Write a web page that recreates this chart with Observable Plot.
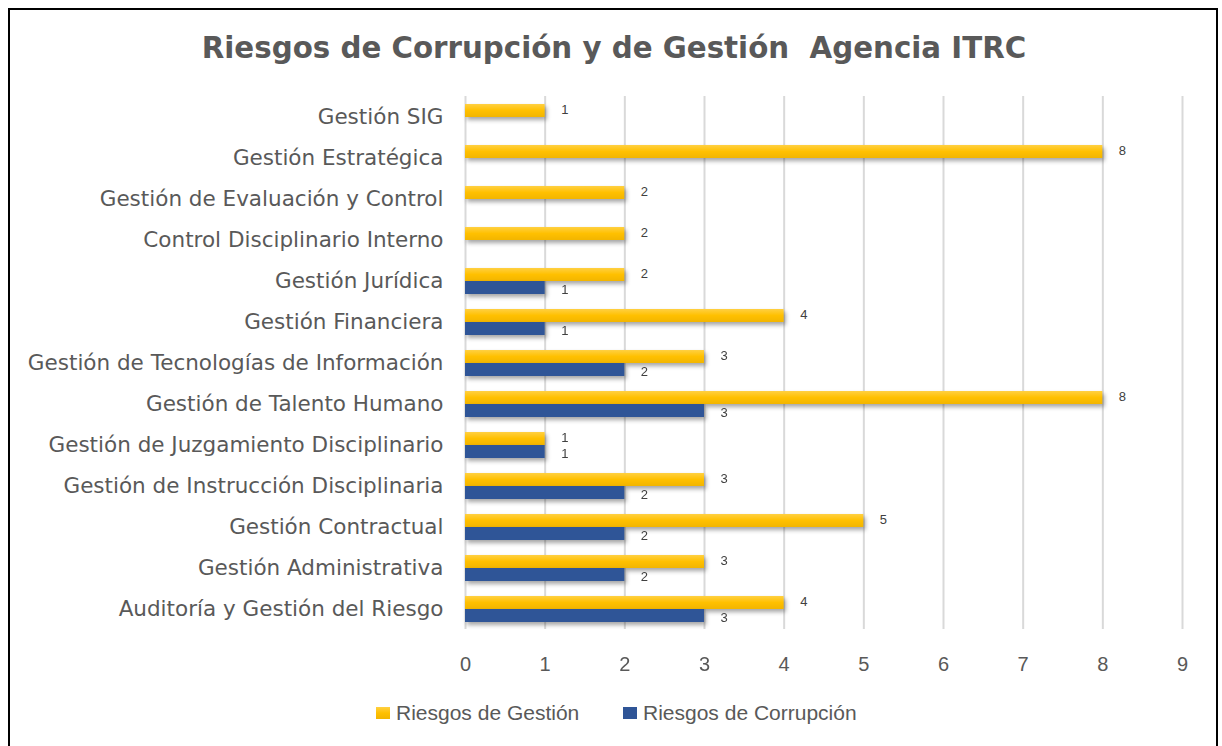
<!DOCTYPE html>
<html><head><meta charset="utf-8">
<script src="https://cdn.jsdelivr.net/npm/d3@7"></script>
<script src="https://cdn.jsdelivr.net/npm/@observablehq/plot@0.6"></script>
<style>
html,body{margin:0;padding:0;background:#fff;}
body{width:1222px;height:746px;overflow:hidden;position:relative;}
#frame{position:absolute;left:8px;top:8px;width:1210px;height:760px;border:2px solid #000;box-sizing:border-box;}
#title{position:absolute;left:0;width:1228px;top:29px;text-align:center;font-family:"DejaVu Sans";font-weight:bold;font-size:29.3px;line-height:38px;color:#595959;white-space:pre;}
#chart{position:absolute;left:0;top:80px;}
#legend{position:absolute;top:701px;left:0;width:1222px;height:24px;font-family:"Liberation Sans";font-size:21px;color:#595959;}
.item{position:absolute;top:0;line-height:24px;white-space:nowrap;}
.sw{position:absolute;top:6px;width:14px;height:12px;}
</style></head>
<body>
<div id="frame"></div>
<div id="title">Riesgos de Corrupción y de Gestión  Agencia ITRC</div>
<div id="chart"></div>
<div id="legend">
  <div class="sw" style="left:376px;background:linear-gradient(#FFD042,#FFC000 50%,#F2B500);"></div>
  <div class="item" style="left:396px;">Riesgos de Gestión</div>
  <div class="sw" style="left:623px;background:#2F5597;"></div>
  <div class="item" style="left:643px;">Riesgos de Corrupción</div>
</div>
<script>
const categories = [
  "Gestión SIG",
  "Gestión Estratégica",
  "Gestión de Evaluación y Control",
  "Control Disciplinario Interno",
  "Gestión Jurídica",
  "Gestión Financiera",
  "Gestión de Tecnologías de Información",
  "Gestión de Talento Humano",
  "Gestión de Juzgamiento Disciplinario",
  "Gestión de Instrucción Disciplinaria",
  "Gestión Contractual",
  "Gestión Administrativa",
  "Auditoría y Gestión del Riesgo"
];
const series = ["Riesgos de Gestión", "Riesgos de Corrupción"];
const gestion    = [1, 8, 2, 2, 2, 4, 3, 8, 1, 3, 5, 3, 4];
const corrupcion = [null, null, null, null, 1, 1, 2, 3, 1, 2, 2, 2, 3];
const xTicks = [0, 1, 2, 3, 4, 5, 6, 7, 8, 9];

const data = [];
categories.forEach((c, i) => {
  if (gestion[i] != null) data.push({cat: c, serie: series[0], value: gestion[i]});
  if (corrupcion[i] != null) data.push({cat: c, serie: series[1], value: corrupcion[i]});
});
const dG = data.filter(d => d.serie === series[0]);
const dC = data.filter(d => d.serie === series[1]);

const labelStyle = {x: "value", y: "serie", fy: "cat", text: d => String(d.value), dx: 16, textAnchor: "start", fontSize: 13, fill: "#404040", fontFamily: "Liberation Sans"};

const chart = Plot.plot({
  width: 1222,
  height: 599,
  marginLeft: 465,
  marginRight: 40,
  marginTop: 16,
  marginBottom: 50,
  style: {background: "transparent", overflow: "visible"},
  x: {domain: [0, 9], ticks: xTicks},
  fy: {domain: categories, padding: 0, label: null},
  y: {domain: series, paddingInner: 0, paddingOuter: 0.5, axis: null},
  marks: [
    Plot.ruleX(xTicks, {stroke: "#D9D9D9", strokeWidth: 2}),
    Plot.barX(dG, {x: "value", y: "serie", fy: "cat", fill: "url(#gradY)"}),
    Plot.barX(dC, {x: "value", y: "serie", fy: "cat", fill: "#2F5597"}),
    Plot.text(dG, {...labelStyle, dy: -1}),
    Plot.text(dC, {...labelStyle, dy: 2}),
    Plot.axisX({ticks: xTicks, tickSize: 0, tickPadding: 27, fontSize: 20, fontFamily: "Liberation Sans", color: "#595959", label: null, tickFormat: d => String(d)}),
    Plot.axisFy({anchor: "left", tickSize: 0, tickPadding: 22, fontSize: 21.5, fontFamily: "DejaVu Sans", color: "#595959", label: null})
  ]
});

const svg = d3.select(chart);
const defs = svg.insert("defs", ":first-child");
const g = defs.append("linearGradient").attr("id", "gradY").attr("x1", 0).attr("y1", 0).attr("x2", 0).attr("y2", 1);
g.append("stop").attr("offset", "0%").attr("stop-color", "#FFD042");
g.append("stop").attr("offset", "50%").attr("stop-color", "#FFC000");
g.append("stop").attr("offset", "100%").attr("stop-color", "#F2B500");
svg.selectAll('g[aria-label="bar"]').style("filter", "drop-shadow(2px 3px 2px rgba(0,0,0,0.35))");

document.getElementById("chart").appendChild(chart);
</script>
</body></html>
